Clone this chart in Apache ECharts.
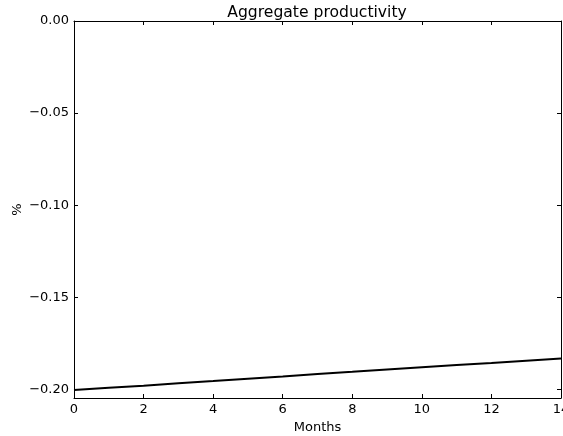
<!DOCTYPE html>
<html>
<head>
<meta charset="utf-8">
<script src="https://cdn.jsdelivr.net/npm/echarts@6/dist/echarts.min.js"></script>
<style>
  html, body { margin: 0; padding: 0; background: #fff; }
  #chart { width: 563px; height: 436px; }
</style>
</head>
<body>
<div id="chart"></div>
<script>
// Monthly path of aggregate productivity (% deviation)
const months = [0, 1, 2, 3, 4, 5, 6, 7, 8, 9, 10, 11, 12, 13, 14];
const productivity = [-0.2004, -0.1992, -0.1980, -0.1967, -0.1955, -0.1942, -0.1930,
  -0.1917, -0.1905, -0.1892, -0.1880, -0.1868, -0.1857, -0.1845, -0.1833];
const yTicks = [0, -0.05, -0.10, -0.15, -0.20];
const xTicks = [0, 2, 4, 6, 8, 10, 12, 14];

const FONT = 'DejaVu Sans';
const yMin = -0.2047, yMax = 0;

const fmtY = v => (v < 0 ? '\u2212' : '') + Math.abs(v).toFixed(2);

const axisLineStyle = { show: true, onZero: false, lineStyle: { color: '#000', width: 1 } };
const tickStyle = { show: true, inside: true, length: 4, lineStyle: { color: '#000', width: 1 } };

const chart = echarts.init(document.getElementById('chart'), null, { renderer: 'canvas' });
chart.setOption({
  animation: false,
  backgroundColor: '#fff',
  title: {
    text: 'Aggregate productivity',
    left: 312, top: 0, textAlign: 'center',
    textStyle: { fontFamily: FONT, fontSize: 15.6, fontWeight: 'normal', color: '#000' }
  },
  grid: { left: 74, right: 2, top: 21, bottom: 38, containLabel: false, outerBoundsMode: 'none' },
  xAxis: [{
    type: 'value', min: 0, max: 14, interval: 2,
    name: 'Months', nameLocation: 'middle', nameGap: 23, nameMoveOverlap: false,
    nameTextStyle: { fontFamily: FONT, fontSize: 13, color: '#000' },
    axisLine: axisLineStyle, axisTick: tickStyle, splitLine: { show: false },
    axisLabel: { margin: 5, fontFamily: FONT, fontSize: 13, color: '#000', showMaxLabel: true }
  }, {
    type: 'value', position: 'top', min: 0, max: 14, interval: 2,
    axisLine: axisLineStyle, axisTick: tickStyle, splitLine: { show: false },
    axisLabel: { show: false }
  }],
  yAxis: [{
    type: 'value', min: yMin, max: yMax,
    name: '%', nameLocation: 'middle', nameGap: 50, nameRotate: 90, nameMoveOverlap: false,
    nameTextStyle: { fontFamily: FONT, fontSize: 13, color: '#000' },
    axisLine: axisLineStyle,
    axisTick: Object.assign({}, tickStyle, { customValues: yTicks }),
    splitLine: { show: false },
    axisLabel: { customValues: yTicks, formatter: fmtY, margin: 5,
      fontFamily: FONT, fontSize: 13, color: '#000' }
  }, {
    type: 'value', position: 'right', min: yMin, max: yMax,
    axisLine: axisLineStyle,
    axisTick: Object.assign({}, tickStyle, { customValues: yTicks }),
    splitLine: { show: false },
    axisLabel: { show: false, customValues: yTicks }
  }],
  series: [{
    type: 'line',
    xAxisIndex: 0, yAxisIndex: 0,
    data: months.map((m, i) => [m, productivity[i]]),
    showSymbol: false,
    lineStyle: { color: '#000', width: 2 },
    silent: true
  }]
});
</script>
</body>
</html>
